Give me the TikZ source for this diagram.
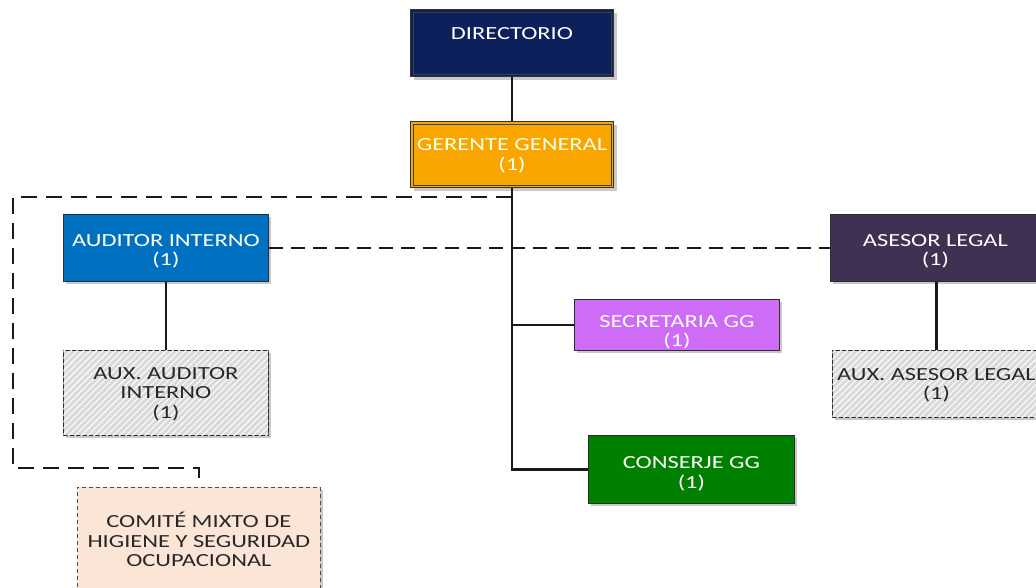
\documentclass[tikz,border=0pt]{standalone}
\usepackage{fontspec}
\setmainfont{Carlito}[FakeStretch=1.32]
\usetikzlibrary{shadows,patterns.meta}
\definecolor{navy}{RGB}{14,32,92}
\definecolor{gold}{RGB}{250,166,0}
\definecolor{audblue}{RGB}{0,112,192}
\definecolor{aspurple}{RGB}{64,49,82}
\definecolor{secviolet}{RGB}{206,108,248}
\definecolor{consgreen}{RGB}{0,128,0}
\definecolor{peach}{RGB}{251,229,214}
\definecolor{hatchgray}{RGB}{218,218,218}
\definecolor{txtdark}{RGB}{40,40,40}
\definecolor{edge}{RGB}{45,45,45}
\tikzset{
  box/.style={anchor=north west, inner sep=0pt, align=center, text depth=0pt,
    font=\fontsize{18.5}{19.5}\selectfont,
    drop shadow={shadow xshift=3pt, shadow yshift=-3pt, opacity=0.35, fill=black!60}},
  solidbox/.style={box, draw=edge, line width=0.8pt, text=white},
  dblbox/.style={box, draw=black!80, line width=1pt, fill=#1, text=white},
  innerline/.style={draw=black!75, line width=0.9pt},
  hatchbox/.style={box, draw=edge, line width=0.8pt, fill=hatchgray, text=txtdark,
    postaction={pattern={Lines[angle=45,distance=4.5pt,line width=1.1pt]}, pattern color=white!95!hatchgray}},
  conn/.style={draw=black!90, line width=2.2pt},
  bigdash/.style={draw=black!90, line width=2pt, dash pattern=on 16pt off 9pt},
  middash/.style={draw=black!90, line width=1.6pt, dash pattern=on 14pt off 8pt},
}
\begin{document}
\begin{tikzpicture}[x=1pt,y=-1pt]
\useasboundingbox (0,0) rectangle (1036,587);
\clip (0,0) rectangle (1036,587);
\fill[white] (0,0) rectangle (1036,587);

\node[dblbox=navy, minimum width=203pt, minimum height=67pt] (dir) at (410,9) {DIRECTORIO\\ ~};
\node[dblbox=gold, minimum width=203pt, minimum height=66pt, text=white!92!yellow] (gg) at (410,121) {GERENTE GENERAL\\(1)};
\draw[innerline] ([shift={(3pt,-3pt)}]dir.north west) rectangle ([shift={(-3pt,3pt)}]dir.south east);
\draw[innerline] ([shift={(3pt,-3pt)}]gg.north west) rectangle ([shift={(-3pt,3pt)}]gg.south east);
\node[solidbox, fill=audblue, minimum width=205pt, minimum height=67pt] (aud) at (63,214) {\rule{0pt}{16pt}AUDITOR INTERNO\\(1)};
\node[solidbox, fill=aspurple, minimum width=210pt, minimum height=67pt] (ase) at (830,214) {\rule{0pt}{16pt}ASESOR LEGAL\\(1)};
\node[hatchbox, minimum width=205pt, minimum height=85pt] (auxa) at (63,350) {AUX. AUDITOR\\INTERNO\\(1)};
\node[hatchbox, minimum width=208pt, minimum height=67pt] (auxl) at (832,350) {AUX. ASESOR LEGAL\\(1)};
\node[solidbox, fill=secviolet, minimum width=205pt, minimum height=51pt] (sec) at (574,299) {\rule{0pt}{24pt}SECRETARIA GG\\(1)};
\node[solidbox, fill=consgreen, minimum width=206pt, minimum height=68pt] (cons) at (588,435) {\rule{0pt}{18pt}CONSERJE GG\\(1)};
\node[box, draw=black!70, line width=0.7pt, dash pattern=on 4pt off 3pt, fill=peach, text=txtdark, minimum width=243pt, minimum height=104pt] (com) at (77,487) {COMITÉ MIXTO DE\\HIGIENE Y SEGURIDAD\\OCUPACIONAL};

\draw[conn] (dir.south) -- (gg.north);
\coordinate (trunkbot) at (gg.south |- cons.west);
\draw[conn] (gg.south) -- (trunkbot) -- (cons.west);
\draw[conn] (gg.south |- sec.west) -- (sec.west);
\draw[conn] (aud.south) -- (auxa.north);
\draw[conn] (ase.south -| auxl.north) -- (auxl.north);
\draw[middash] (aud.east) -- (ase.west);
\coordinate (dtop) at (512,197);
\coordinate (dtl) at (13,197);
\coordinate (dbl) at (13,468);
\draw[bigdash] (dtop) -- (dtl) -- (dbl) -| (com.north);
\end{tikzpicture}
\end{document}
